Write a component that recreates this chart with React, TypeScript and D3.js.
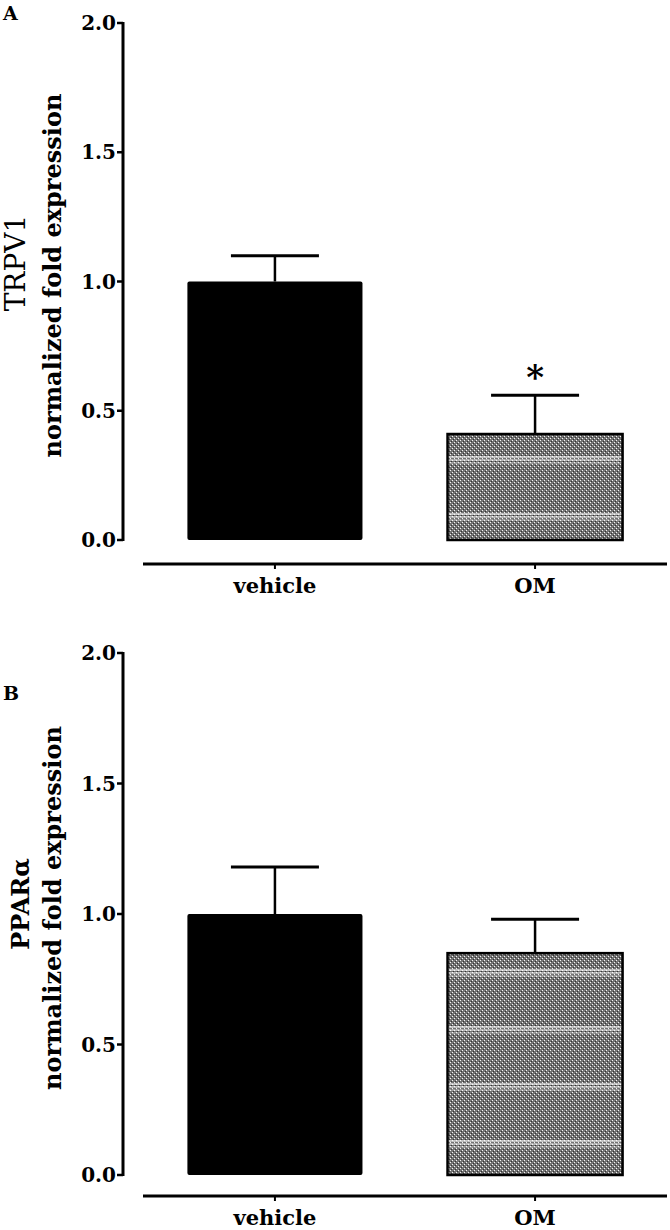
import * as React from "react";
import * as d3 from "d3";

// data
const categories = ["vehicle", "OM"];
const trpv1Means = [1.0, 0.41];
const trpv1Sem = [0.1, 0.15];
const trpv1Marks = ["", "*"];
const pparMeans = [1.0, 0.85];
const pparSem = [0.18, 0.13];
const pparMarks = ["", ""];
const yTicks = [0, 0.5, 1.0, 1.5, 2.0];

const FONT = "'DejaVu Serif', serif";

interface PanelProps {
  letter: string;
  letterY: number;
  gene: string;
  geneBold: boolean;
  geneY: number;
  means: number[];
  sems: number[];
  marks: string[];
  yTop: number;
  yBottom: number;
  xAxisY: number;
}

const Panel = (p: PanelProps) => {
  const axisX = 123;
  const y = d3.scaleLinear().domain([0, 2]).range([p.yBottom, p.yTop]);
  const x = d3
    .scaleBand()
    .domain(categories)
    .range([145, 665])
    .paddingInner(0.327)
    .paddingOuter(0.163);
  const bw = x.bandwidth();
  const capW = 88;
  const mid = (p.yTop + p.yBottom) / 2;

  return (
    <g>
      <text x={3} y={p.letterY} fontFamily={FONT} fontWeight="bold" fontSize={19}>
        {p.letter}
      </text>

      {/* y axis title, two lines */}
      <text
        transform={`translate(${p.geneBold ? 20 : 15}, ${p.geneY}) rotate(-90)`}
        textAnchor="middle"
        dominantBaseline="central"
        fontFamily={FONT}
        fontWeight={p.geneBold ? "bold" : "normal"}
        fontSize={p.geneBold ? 24 : 28}
      >
        {p.gene}
      </text>
      <text
        transform={`translate(52, ${mid - 6}) rotate(-90)`}
        textAnchor="middle"
        dominantBaseline="central"
        fontFamily={FONT}
        fontWeight="bold"
        fontSize={24}
      >
        normalized fold expression
      </text>

      {/* y axis */}
      <line x1={axisX} x2={axisX} y1={p.yTop - 1} y2={p.yBottom + 1} stroke="#000" strokeWidth={3} />
      {yTicks.map((t) => (
        <g key={t}>
          <line x1={axisX - 6} x2={axisX} y1={y(t)} y2={y(t)} stroke="#000" strokeWidth={2.5} />
          <text
            x={axisX - 7}
            y={y(t)}
            textAnchor="end"
            dominantBaseline="central"
            fontFamily={FONT}
            fontWeight="bold"
            fontSize={20}
          >
            {t.toFixed(1)}
          </text>
        </g>
      ))}

      {/* bars */}
      {categories.map((c, i) => {
        const x0 = x(c) as number;
        const cx = x0 + bw / 2;
        const top = y(p.means[i]);
        const errTop = y(p.means[i] + p.sems[i]);
        return (
          <g key={c}>
            <line x1={cx} x2={cx} y1={top} y2={errTop} stroke="#000" strokeWidth={2.5} />
            <line x1={cx - capW / 2} x2={cx + capW / 2} y1={errTop} y2={errTop} stroke="#000" strokeWidth={3} />
            {i === 0 ? (
              <rect x={x0} y={top} width={bw} height={p.yBottom - top} rx={2} fill="#000" />
            ) : (
              <g>
                <rect x={x0} y={top} width={bw} height={p.yBottom - top} fill="url(#dots)" />
                <rect x={x0} y={top} width={bw} height={p.yBottom - top} fill="url(#bands)" />
                <rect
                  x={x0}
                  y={top}
                  width={bw}
                  height={p.yBottom - top}
                  fill="none"
                  stroke="#000"
                  strokeWidth={2.5}
                />
              </g>
            )}
            {p.marks[i] && (
              <text
                x={cx}
                y={errTop - 6}
                textAnchor="middle"
                fontFamily={FONT}
                fontWeight="bold"
                fontSize={34}
              >
                {p.marks[i]}
              </text>
            )}
          </g>
        );
      })}

      {/* x axis */}
      <line x1={143} x2={667} y1={p.xAxisY} y2={p.xAxisY} stroke="#000" strokeWidth={3} />
      {categories.map((c) => {
        const cx = (x(c) as number) + bw / 2;
        return (
          <g key={c}>
            <line x1={cx} x2={cx} y1={p.xAxisY} y2={p.xAxisY + 5} stroke="#000" strokeWidth={2} />
            <text
              x={cx}
              y={p.xAxisY + 29}
              textAnchor="middle"
              fontFamily={FONT}
              fontWeight="bold"
              fontSize={21}
            >
              {c}
            </text>
          </g>
        );
      })}
    </g>
  );
};

const App = () => {
  return (
    <svg
      width={670}
      height={1230}
      style={{ position: "absolute", left: 0, top: 0, background: "#fff" }}
    >
      <defs>
        <pattern id="dots" width={4} height={4} patternUnits="userSpaceOnUse">
          <rect width={4} height={4} fill="#737373" />
          <rect x={0} y={0} width={1} height={1} fill="#f4f4f4" />
          <rect x={2} y={2} width={1} height={1} fill="#f4f4f4" />
          <rect x={1} y={3} width={1} height={1} fill="#333" />
          <rect x={3} y={1} width={1} height={1} fill="#333" />
        </pattern>
        <pattern id="bands" width={4} height={57} patternUnits="userSpaceOnUse">
          <rect y={0} width={4} height={2} fill="#fff" opacity={0.6} />
          <rect y={3} width={4} height={2} fill="#fff" opacity={0.5} />
          <rect y={6} width={4} height={2} fill="#fff" opacity={0.3} />
        </pattern>
      </defs>
      <Panel
        letter="A"
        letterY={20}
        gene="TRPV1"
        geneBold={false}
        geneY={263}
        means={trpv1Means}
        sems={trpv1Sem}
        marks={trpv1Marks}
        yTop={23}
        yBottom={540}
        xAxisY={564}
      />
      <Panel
        letter="B"
        letterY={700}
        gene="PPARα"
        geneBold={true}
        geneY={904}
        means={pparMeans}
        sems={pparSem}
        marks={pparMarks}
        yTop={653}
        yBottom={1175}
        xAxisY={1196}
      />
    </svg>
  );
};

export default App;
